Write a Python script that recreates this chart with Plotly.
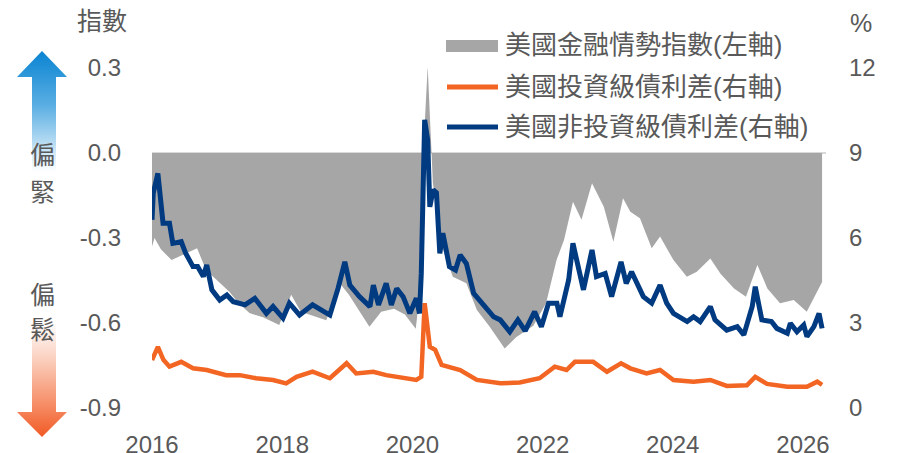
import plotly.graph_objects as go

# 美國金融情勢指數 (左軸)
fci_dates = [
    "2016-01-01", "2016-01-15", "2016-02-20", "2016-04-20", "2016-06-20", "2016-09-10",
    "2016-10-30", "2016-12-15", "2017-03-10", "2017-05-01", "2017-07-01", "2017-09-15",
    "2017-12-15", "2018-02-20", "2018-04-15", "2018-09-05", "2018-11-20", "2019-01-10",
    "2019-05-05", "2019-07-10", "2019-09-20", "2019-11-20", "2020-01-20", "2020-02-20",
    "2020-03-10", "2020-03-27", "2020-04-25", "2020-06-20", "2020-08-15", "2020-10-30",
    "2020-12-28", "2021-03-10", "2021-06-02", "2021-08-05", "2021-11-10", "2022-01-20",
    "2022-03-20", "2022-05-01", "2022-06-20", "2022-08-07", "2022-10-05", "2022-12-10",
    "2023-02-02", "2023-03-28", "2023-05-08", "2023-07-01", "2023-09-05", "2023-10-22",
    "2024-01-05", "2024-03-20", "2024-05-15", "2024-07-30", "2024-09-25", "2024-12-10",
    "2025-02-15", "2025-04-20", "2025-06-15", "2025-08-25", "2025-11-10", "2026-01-22",
    "2026-03-05", "2026-04-18",
]
fci_values = [
    -0.33, -0.30, -0.34, -0.378, -0.36, -0.336,
    -0.413, -0.44, -0.49, -0.53, -0.565, -0.58,
    -0.607, -0.50, -0.56, -0.59, -0.46, -0.50,
    -0.613, -0.56, -0.55, -0.57, -0.62, -0.45,
    0.10, 0.305, -0.106, -0.34, -0.437, -0.46,
    -0.554, -0.613, -0.69, -0.65, -0.61, -0.53,
    -0.378, -0.307, -0.172, -0.236, -0.107, -0.19,
    -0.313, -0.16, -0.207, -0.23, -0.336, -0.295,
    -0.378, -0.437, -0.419, -0.372, -0.426, -0.478,
    -0.507, -0.395, -0.478, -0.53, -0.519, -0.56,
    -0.507, -0.455,
]

# 美國投資級債利差 (右軸, %)
ig_dates = [
    "2016-01-01", "2016-02-03", "2016-03-05", "2016-04-08", "2016-06-13", "2016-08-18",
    "2016-11-03", "2017-02-20", "2017-05-08", "2017-08-07", "2017-11-10", "2018-01-23",
    "2018-03-22", "2018-06-20", "2018-09-25", "2018-12-28", "2019-02-20", "2019-05-27",
    "2019-08-07", "2019-11-10", "2020-01-23", "2020-02-20", "2020-03-10", "2020-04-08",
    "2020-05-08", "2020-06-13", "2020-09-25", "2020-12-28", "2021-05-08", "2021-08-25",
    "2021-12-15", "2022-03-10", "2022-05-15", "2022-07-01", "2022-10-12", "2022-12-28",
    "2023-03-17", "2023-05-08", "2023-08-07", "2023-10-22", "2024-01-05", "2024-04-27",
    "2024-07-30", "2024-10-30", "2025-02-20", "2025-04-08", "2025-06-13", "2025-10-05",
    "2026-01-23", "2026-03-22", "2026-04-18",
]
ig_values = [
    1.69, 2.16, 1.70, 1.46, 1.63, 1.40,
    1.34, 1.16, 1.16, 1.05, 0.99, 0.87,
    1.10, 1.28, 1.05, 1.58, 1.22, 1.28,
    1.16, 1.05, 0.99, 1.10, 3.70, 2.16,
    2.05, 1.52, 1.34, 0.99, 0.87, 0.90,
    1.05, 1.46, 1.34, 1.63, 1.63, 1.28,
    1.58, 1.40, 1.22, 1.34, 0.99, 0.93,
    0.99, 0.78, 0.80, 1.10, 0.85, 0.75,
    0.75, 0.93, 0.82,
]

# 美國非投資級債利差 (右軸, %)
hy_dates = [
    "2016-01-01", "2016-01-08", "2016-02-03", "2016-02-17", "2016-03-03", "2016-04-08",
    "2016-04-27", "2016-06-13", "2016-07-08", "2016-08-18", "2016-09-13", "2016-10-15",
    "2016-11-03", "2016-12-02", "2017-01-15", "2017-02-24", "2017-04-01", "2017-06-06",
    "2017-07-31", "2017-10-04", "2017-11-10", "2018-01-05", "2018-02-10", "2018-04-08",
    "2018-06-20", "2018-09-25", "2018-11-10", "2018-12-18", "2019-01-15", "2019-03-10",
    "2019-05-08", "2019-05-27", "2019-06-25", "2019-08-07", "2019-09-05", "2019-10-05",
    "2019-11-10", "2019-12-18", "2020-01-23", "2020-02-10", "2020-02-20", "2020-03-10",
    "2020-03-27", "2020-04-08", "2020-04-27", "2020-05-15", "2020-06-03", "2020-06-20",
    "2020-07-27", "2020-08-30", "2020-09-25", "2020-10-30", "2020-12-10", "2021-02-03",
    "2021-04-01", "2021-05-08", "2021-07-01", "2021-08-15", "2021-09-25", "2021-11-17",
    "2021-12-25", "2022-02-03", "2022-03-22", "2022-04-08", "2022-05-27", "2022-06-20",
    "2022-07-20", "2022-08-18", "2022-10-05", "2022-10-30", "2022-12-18", "2023-01-23",
    "2023-03-17", "2023-04-15", "2023-05-15", "2023-07-01", "2023-07-20", "2023-09-05",
    "2023-10-22", "2023-11-28", "2024-01-05", "2024-03-22", "2024-04-27", "2024-06-03",
    "2024-07-30", "2024-08-25", "2024-10-30", "2024-12-28", "2025-02-03", "2025-03-22",
    "2025-04-08", "2025-05-15", "2025-07-08", "2025-08-07", "2025-10-05", "2025-10-22",
    "2025-11-28", "2026-01-05", "2026-01-23", "2026-03-03", "2026-04-01", "2026-04-18",
]
hy_values = [
    6.64, 7.58, 8.28, 7.34, 6.52, 6.52,
    5.81, 5.87, 5.46, 4.99, 4.99, 4.64,
    5.05, 4.17, 3.81, 3.99, 3.75, 3.64,
    3.87, 3.34, 3.58, 3.17, 3.70, 3.28,
    3.64, 3.28, 4.22, 5.16, 4.34, 3.93,
    3.58, 4.34, 3.64, 4.40, 3.64, 4.22,
    3.93, 3.34, 3.87, 3.34, 4.75, 10.17,
    9.46, 7.10, 7.70, 7.60, 5.46, 6.17,
    4.99, 4.87, 5.40, 5.10, 4.05, 3.64,
    3.22, 3.11, 2.69, 3.11, 2.72, 3.40,
    2.87, 3.70, 3.70, 3.22, 4.52, 5.81,
    4.99, 4.17, 5.58, 4.64, 4.75, 3.93,
    5.16, 4.40, 4.81, 4.17, 3.93, 3.70,
    4.34, 3.70, 3.34, 3.05, 3.22, 3.05,
    3.58, 3.11, 2.75, 2.87, 2.58, 3.58,
    4.28, 3.11, 3.05, 2.81, 2.64, 2.99,
    2.69, 2.93, 2.52, 2.87, 3.34, 2.81,
]

left_ticks = [-0.9, -0.6, -0.3, 0.0, 0.3]
right_ticks = [0, 3, 6, 9, 12]
year_ticks = ["2016-01-01", "2018-01-01", "2020-01-01", "2022-01-01", "2024-01-01", "2026-01-01"]

series_names = ["美國金融情勢指數(左軸)", "美國投資級債利差(右軸)", "美國非投資級債利差(右軸)"]
series_colors = ["#a6a6a6", "#f26522", "#003a80"]

# the page body has an 8px margin, so the figure sits at (8, 8) in the window
OFF = 8
W, H = 910 - OFF, 453 - OFF
TEXT = "#595959"
FONT = "Liberation Sans, Arial, Noto Sans CJK TC, sans-serif"

# plot area in window pixels
PL, PR, PT, PB = 152, 826, 68, 408

fig = go.Figure()

fig.add_trace(go.Scatter(
    x=fci_dates, y=fci_values, mode="lines", fill="tozeroy",
    fillcolor=series_colors[0], line=dict(width=0, color=series_colors[0]),
    yaxis="y", hoverinfo="skip",
))
fig.add_trace(go.Scatter(
    x=ig_dates, y=ig_values, mode="lines", yaxis="y2",
    line=dict(color=series_colors[1], width=4.5),
))
fig.add_trace(go.Scatter(
    x=hy_dates, y=hy_values, mode="lines", yaxis="y2",
    line=dict(color=series_colors[2], width=5),
))

# decorative arrows in the left margin, drawn on a window-pixel overlay axis
arrow_up_x = [42, 67, 56, 56, 32, 32, 17, 42]
arrow_up_y = [51, 77, 77, 172, 172, 77, 77, 51]
arrow_dn_x = [32, 56, 56, 67, 42, 17, 32, 32]
arrow_dn_y = [322, 322, 412, 412, 437, 412, 412, 322]

fig.add_trace(go.Scatter(
    x=arrow_up_x, y=arrow_up_y, xaxis="x3", yaxis="y3", mode="lines",
    line=dict(width=0), fill="toself",
    fillgradient=dict(type="vertical", start=51, stop=172,
                      colorscale=[[0, "#0a84d2"], [0.45, "#5aaee3"], [0.8, "#c4e2f5"], [1, "#ffffff"]]),
    hoverinfo="skip",
))
fig.add_trace(go.Scatter(
    x=arrow_dn_x, y=arrow_dn_y, xaxis="x3", yaxis="y3", mode="lines",
    line=dict(width=0), fill="toself",
    fillgradient=dict(type="vertical", start=322, stop=437,
                      colorscale=[[0, "#ffffff"], [0.3, "#fbd3c3"], [0.7, "#f6906a"], [1, "#f15a24"]]),
    hoverinfo="skip",
))

# legend drawn by hand
legend_rows = [45, 87, 127]
fig.add_shape(type="rect", xref="x3", yref="y3", x0=446, x1=498, y0=40, y1=52,
              fillcolor=series_colors[0], line=dict(width=0))
for row_y, color in zip(legend_rows[1:], series_colors[1:]):
    fig.add_shape(type="line", xref="x3", yref="y3", x0=447, x1=498, y0=row_y, y1=row_y,
                  line=dict(color=color, width=5))
for row_y, name in zip(legend_rows, series_names):
    fig.add_annotation(x=503, y=row_y, xref="x3", yref="y3", text=name, showarrow=False,
                       xanchor="left", yanchor="middle", font=dict(size=26, color=TEXT, family=FONT))

labels = [("指數", 102, 21), ("%", 861, 23), ("偏", 42, 155), ("緊", 42, 192), ("偏", 42, 295), ("鬆", 42, 330)]
for txt, lx, ly in labels:
    fig.add_annotation(x=lx, y=ly, xref="x3", yref="y3", text=txt, showarrow=False,
                       xanchor="center", yanchor="middle", font=dict(size=25, color=TEXT, family=FONT))

fig.update_layout(
    width=W, height=H,
    margin=dict(l=0, r=0, t=0, b=0, autoexpand=False),
    paper_bgcolor="white", plot_bgcolor="rgba(0,0,0,0)",
    showlegend=False,
    font=dict(family=FONT, color=TEXT, size=24),
    xaxis=dict(
        type="date", domain=[(PL - OFF) / W, (PR - OFF) / W], range=["2016-01-01", "2026-05-10"],
        tickvals=year_ticks, ticktext=[d[:4] for d in year_ticks],
        showgrid=False, zeroline=False, showline=False, ticks="",
        tickfont=dict(size=24, color=TEXT), ticklabelstandoff=20,
    ),
    yaxis=dict(
        domain=[(H - (PB - OFF)) / H, (H - (PT - OFF)) / H], range=[-0.9, 0.3],
        tickvals=left_ticks, ticktext=[f"{v:.1f}" for v in left_ticks],
        showgrid=False, zeroline=True, zerolinecolor="#d9d9d9", zerolinewidth=2,
        showline=False, ticks="", tickfont=dict(size=24, color=TEXT), ticklabelstandoff=30,
    ),
    yaxis2=dict(
        overlaying="y", side="right", anchor="x", range=[0, 12],
        tickvals=right_ticks, ticktext=[str(v) for v in right_ticks],
        showgrid=False, zeroline=False, showline=False, ticks="",
        tickfont=dict(size=24, color=TEXT), ticklabelstandoff=22,
    ),
    xaxis3=dict(domain=[0, 1], range=[OFF, OFF + W], visible=False, fixedrange=True, anchor="y3"),
    yaxis3=dict(domain=[0, 1], range=[OFF + H, OFF], visible=False, fixedrange=True, anchor="x3"),
)

fig.write_html("out.html")
